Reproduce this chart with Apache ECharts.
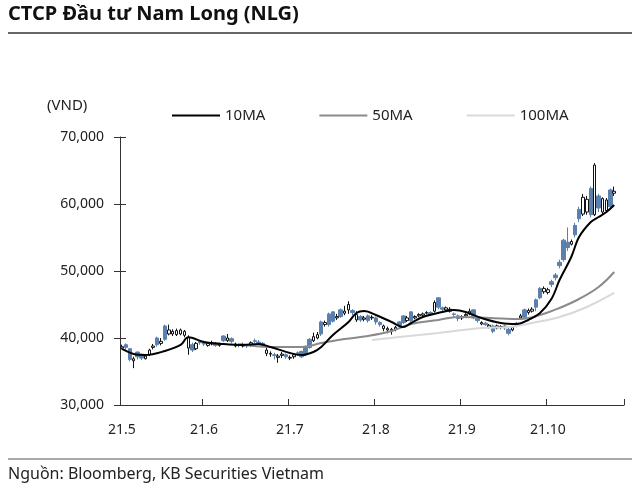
<!DOCTYPE html>
<html>
<head>
<meta charset="utf-8">
<script src="https://cdn.jsdelivr.net/npm/echarts@6/dist/echarts.min.js"></script>
<style>
html,body{margin:0;padding:0;background:#fff;}
#c{width:640px;height:493px;}
</style>
</head>
<body>
<div id="c"></div>
<script>
// Trading days (weekdays) from 2021-05-03 to 2021-10-28
const categories = (function () {
  const out = [];
  const d = new Date(Date.UTC(2021, 4, 3));
  const end = new Date(Date.UTC(2021, 9, 28));
  while (d <= end) {
    const wd = d.getUTCDay();
    if (wd !== 0 && wd !== 6) out.push(d.toISOString().slice(0, 10));
    d.setUTCDate(d.getUTCDate() + 1);
  }
  return out;
})();

const opens = [38500,39000,38400,36600,37900,37600,36900,37500,38600,40000,
39200,41800,40600,40600,40500,40600,40400,38500,39000,38400,
39500,39400,38900,39100,39200,38900,40300,39600,39900,38800,
39000,38800,38900,38900,39600,39400,39200,37700,37600,37500,
37100,37400,37500,37000,37200,37800,38000,38700,39800,39600,
40000,42400,42000,43600,43900,43000,44200,43700,44200,44100,
42700,43200,42800,43300,43000,43000,42300,41400,41200,41000,
41300,42400,43300,42600,43900,43000,43300,43400,43700,43800,
44000,46000,44500,44200,44000,43600,43300,43000,43300,43600,
44200,42900,42100,42200,41600,41800,41500,41600,
41800,41300,41200,42200,43000,44200,43800,44000,45700,47400,
46900,46800,48400,49400,51300,54600,54300,54000,56800,59200,
58500,58800,62300,58400,61200,58800,59000,62100,61600];

const closes = [38700,38600,36800,36900,37200,37000,37300,38200,38800,39000,
39500,39800,41200,41000,41100,41200,41000,40100,38200,39200,
39300,39100,39200,39300,38900,39100,39600,40000,39500,39100,
38900,39000,38800,39300,39500,39300,38900,38200,37700,37400,
37300,37600,37200,37100,37500,37700,37200,37600,38600,40200,
40500,40600,42300,42000,42500,43200,43200,44000,45000,43800,
43500,42700,43000,42600,43100,42400,42000,41800,41400,41300,
41600,41800,42300,43000,42600,43200,43500,43600,43800,43500,
45300,44600,44300,44500,44300,43500,42900,43200,43500,44000,
43000,42600,42300,42000,41900,41000,41800,41700,
41500,40700,41600,41900,43300,43100,44100,44300,44600,46000,
47400,47200,48000,49000,50800,51700,53500,54400,55400,57800,
61000,60700,58400,65800,59400,60800,60600,59600,61900];

const lows = [38300,38200,36500,35500,36800,36700,36800,37300,38300,38700,
38900,39600,40400,40300,40300,40400,40100,37500,37900,38200,
39000,38800,38700,38900,38700,38700,39400,39400,39200,38600,
38600,38600,38500,38700,39200,39000,38600,37300,37200,36800,
36300,37000,36900,36700,36900,37300,37000,37300,38400,39400,
39800,40300,41700,41700,42300,42700,43000,43400,43600,43400,
42400,42400,42500,42300,42700,42000,41700,41000,40700,40500,
41000,41500,42100,42400,42400,42800,43100,43200,43500,43300,
43800,44300,44000,44000,43800,43000,42500,42700,43100,43400,
42800,42300,41900,41800,41400,40700,41300,41300,
41200,40400,41000,41600,42800,42900,43500,43800,44000,45800,
46600,46500,47600,48600,50400,51400,53000,53800,55000,57300,
58200,58400,58000,58200,58800,58500,58700,59300,61200];

const highs = [39000,39200,38500,37200,38000,37700,37500,38400,39100,40200,
40000,42000,42000,41300,41400,41400,41200,40400,39300,39400,
39700,39600,39400,39600,39400,39300,40400,40600,40100,39300,
39200,39300,39100,39500,39900,39700,39400,38600,38000,37800,
37600,37900,37700,37400,37700,38000,38100,38900,40000,40800,
40900,42600,42600,43800,44000,43600,44400,44800,45500,44300,
44000,43400,43300,43500,43400,43200,42500,42000,41700,41500,
41800,42500,43400,43300,44000,43400,43700,43800,44000,44000,
45600,46100,44700,44700,44600,43800,43500,43400,43700,44400,
44300,43100,42500,42400,42100,42000,42000,41900,
42000,41500,41800,42400,43600,44400,44400,44600,45900,47600,
47700,47500,48700,49700,51700,54800,56500,54700,57200,59600,
61500,61200,62600,66100,61500,61000,60900,62300,62600];

// Moving averages (trading-day index, value)
const ma10Idx = [0,3,6,11,15,17,21,26,31,35,38,43,46,49,51,54,58,60,62,65,69,72,74,77,82,85,88,92,97,101,104,107,110,112,115,117,120,122,124,126];
const ma10Val = [38360,37610,37460,38060,38960,40100,39400,39100,38960,39100,38660,37760,37460,37910,38660,40450,42390,43730,44030,43430,42390,41640,42240,43130,43880,44180,43880,42990,42240,42090,42690,43730,45900,48650,52090,55070,57310,58060,58800,59850];
const ma50Idx = [30,38,46,51,57,63,69,74,81,86,94,102,107,112,117,122,126];
const ma50Val = [39100,38660,38660,39250,39850,40300,41040,42090,42690,43130,43000,42840,43430,44480,45820,47610,49850];
const ma100Idx = [64,71,81,92,99,105,112,119,126];
const ma100Val = [39700,40150,40750,41490,41640,42240,43130,44630,46720];

const yTicks = [30000, 40000, 50000, 60000, 70000];

const FONT = 'Noto Sans';
const upData = opens.map((o, i) => closes[i] >= o ? [o, closes[i], lows[i], highs[i]] : '-');
const downData = opens.map((o, i) => closes[i] < o ? [o, closes[i], lows[i], highs[i]] : '-');
const pairs = (idx, val) => idx.map((k, j) => [categories[k], val[j]]);
const isMonthStart = (i) => i === 0 || categories[i].slice(5, 7) !== categories[i - 1].slice(5, 7);

const chart = echarts.init(document.getElementById('c'), null, {renderer: 'canvas'});
chart.setOption({
  animation: false,
  backgroundColor: '#fff',
  textStyle: {fontFamily: FONT},
  grid: {left: 120, right: 16, top: 137, bottom: 88},
  legend: {
    data: ['10MA', '50MA', '100MA'],
    left: 167, top: 103,
    icon: 'rect', itemWidth: 48, itemHeight: 2, itemGap: 54,
    textStyle: {fontSize: 15, color: '#222', fontFamily: FONT}
  },
  xAxis: {
    type: 'category',
    data: categories,
    boundaryGap: true,
    axisLine: {lineStyle: {color: '#333', width: 1}},
    axisTick: {show: true, inside: true, length: 6, interval: (i) => isMonthStart(i), lineStyle: {color: '#333'}},
    axisLabel: {
      interval: (i) => isMonthStart(i),
      formatter: (v) => '21.' + parseInt(v.slice(5, 7), 10),
      fontSize: 14, color: '#222', margin: 18, fontFamily: FONT
    },
    splitLine: {show: false}
  },
  yAxis: [{
    type: 'value', min: yTicks[0], max: yTicks[yTicks.length - 1], interval: 10000,
    axisLine: {show: true, lineStyle: {color: '#333', width: 1}},
    axisTick: {show: true, length: 6, lineStyle: {color: '#333'}},
    axisLabel: {fontSize: 14, color: '#222', margin: 16, fontFamily: FONT,
      formatter: (v) => v.toLocaleString('en-US')},
    splitLine: {show: false}
  }, {
    type: 'value', min: yTicks[0], max: yTicks[yTicks.length - 1], interval: 10000,
    position: 'left',
    axisLine: {show: false},
    axisTick: {show: true, inside: true, length: 6, lineStyle: {color: '#333'}},
    axisLabel: {show: false},
    splitLine: {show: false}
  }],
  series: [{
    name: 'NLG down',
    type: 'candlestick',
    data: downData,
    barWidth: 4,
    itemStyle: {
      color: '#5b80ad', color0: '#5b80ad',
      borderColor: '#5b80ad', borderColor0: '#5b80ad', borderWidth: 1
    }
  }, {
    name: 'NLG up',
    type: 'candlestick',
    data: upData,
    barWidth: 3,
    itemStyle: {
      color: '#ffffff', color0: '#ffffff',
      borderColor: '#111111', borderColor0: '#111111', borderWidth: 1
    }
  }, {
    name: '100MA', type: 'line', data: pairs(ma100Idx, ma100Val),
    smooth: 0.4, symbol: 'none', itemStyle: {color: '#d9d9d9'},
    lineStyle: {color: '#d9d9d9', width: 2}
  }, {
    name: '50MA', type: 'line', data: pairs(ma50Idx, ma50Val),
    smooth: 0.4, symbol: 'none', itemStyle: {color: '#8a8a8a'},
    lineStyle: {color: '#8a8a8a', width: 2}
  }, {
    name: '10MA', type: 'line', data: pairs(ma10Idx, ma10Val),
    smooth: 0.35, symbol: 'none', itemStyle: {color: '#000'},
    lineStyle: {color: '#000', width: 2}
  }],
  graphic: [
    {type: 'text', left: 8, top: 4, style: {text: 'CTCP Đầu tư Nam Long (NLG)', font: 'bold 20px "Noto Sans"', fill: '#111'}},
    {type: 'line', shape: {x1: 8, y1: 33, x2: 632, y2: 33}, style: {stroke: '#333', lineWidth: 1.5}},
    {type: 'text', left: 47, top: 98, style: {text: '(VND)', font: '15px "Noto Sans"', fill: '#222'}},
    {type: 'line', shape: {x1: 8, y1: 459, x2: 632, y2: 459}, style: {stroke: '#555', lineWidth: 1}},
    {type: 'text', left: 8, top: 466, style: {text: 'Nguồn: Bloomberg, KB Securities Vietnam', font: '16px "Noto Sans"', fill: '#222'}}
  ]
});
</script>
</body>
</html>
